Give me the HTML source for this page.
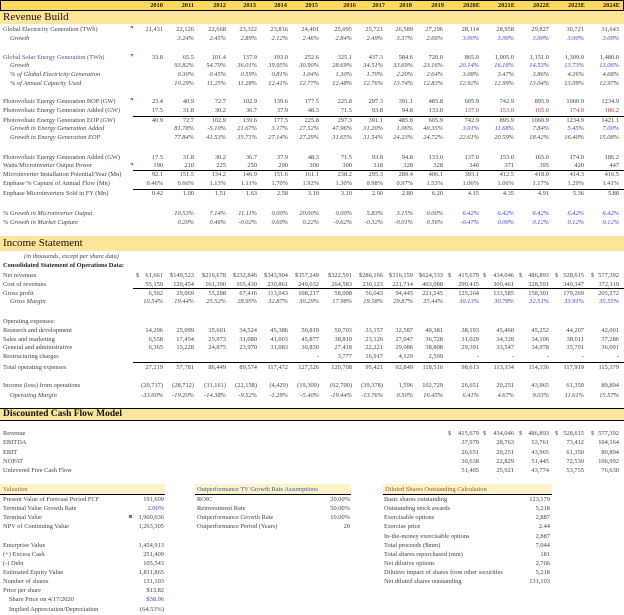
<!DOCTYPE html>
<html><head><meta charset="utf-8"><style>
body{margin:0;background:#fff;width:624px;height:615px;position:relative;overflow:hidden;font-family:"Liberation Serif",serif;color:#444;font-size:6.4px}
.row{position:absolute;left:0;width:624px;height:9px;line-height:9px;white-space:nowrap}
.l{position:absolute;left:3px}
.i{position:absolute;left:10px;font-style:italic}
.v{position:absolute;width:44px;text-align:right}
.it .v{font-style:italic}
.b{color:#3a3af5}
.c0{left:119px}.c1{left:150px}.c2{left:182px}.c3{left:213px}.c4{left:244px}.c5{left:275px}.c6{left:308px}.c7{left:339px}.c8{left:369px}.c9{left:399px}.c10{left:435px}.c11{left:470px}.c12{left:505px}.c13{left:540px}.c14{left:575px}
.band{position:absolute;left:0;width:624px;background:#fee599}
.hl{position:absolute;height:1px;background:#000}
.mk{position:absolute;width:0;height:0;border-top:3px solid #b04fc8;border-left:3px solid transparent}
.d{position:absolute}
.hdr{position:absolute;top:0;left:0;width:622px;height:9px;background:#ffd95e;border:1px solid #000;font-weight:bold;color:#222}
.hdr span{position:absolute;width:44px;text-align:right;top:0;line-height:9px}
</style></head><body>
<div class="hdr">
<span style="left:118px">2010</span><span style="left:149px">2011</span><span style="left:181px">2012</span><span style="left:211px">2013</span><span style="left:242px">2014</span><span style="left:273px">2015</span><span style="left:311px">2016</span><span style="left:340px">2017</span><span style="left:367px">2018</span><span style="left:399px">2019</span><span style="left:435px">2020E</span><span style="left:470px">2021E</span><span style="left:505px">2022E</span><span style="left:540px">2023E</span><span style="left:575px">2024E</span>
</div>
<div class="band" style="top:11px;height:13px"></div>
<div class="d" style="top:11px;left:3px;font-size:11px;color:#111;line-height:13px">Revenue Build</div>

<div class="mk" style="left:130px;top:26px"></div><div class="mk" style="left:130px;top:54px"></div><div class="mk" style="left:130px;top:98px"></div><div class="mk" style="left:130px;top:163px"></div>

<div class="row" style="top:25px"><span class="l">Global Electricity Generation (TWh)</span><span class="v c0">21,431</span><span class="v c1">22,126</span><span class="v c2">22,668</span><span class="v c3">23,322</span><span class="v c4">23,816</span><span class="v c5">24,401</span><span class="v c6">25,095</span><span class="v c7">25,721</span><span class="v c8">26,589</span><span class="v c9">27,296</span><span class="v c10">28,114</span><span class="v c11">28,958</span><span class="v c12">29,827</span><span class="v c13">30,721</span><span class="v c14">31,643</span></div>
<div class="row it" style="top:34px"><span class="i">Growth</span><span class="v c1">3.24%</span><span class="v c2">2.45%</span><span class="v c3">2.89%</span><span class="v c4">2.12%</span><span class="v c5">2.46%</span><span class="v c6">2.84%</span><span class="v c7">2.49%</span><span class="v c8">3.37%</span><span class="v c9">2.66%</span><span class="v c10 b">3.00%</span><span class="v c11 b">3.00%</span><span class="v c12 b">3.00%</span><span class="v c13 b">3.00%</span><span class="v c14 b">3.00%</span></div>

<div class="row" style="top:53px"><span class="l" style="color:#4a5a9a">Global Solar Energy Generation (TWh)</span><span class="v c0">33.8</span><span class="v c1">65.5</span><span class="v c2">101.4</span><span class="v c3">137.9</span><span class="v c4">193.0</span><span class="v c5">252.6</span><span class="v c6">325.1</span><span class="v c7">437.3</span><span class="v c8">584.6</span><span class="v c9">720.0</span><span class="v c10">865.0</span><span class="v c11">1,005.0</span><span class="v c12">1,151.0</span><span class="v c13">1,309.0</span><span class="v c14">1,480.0</span></div>
<div class="row it" style="top:61px"><span class="i">Growth</span><span class="v c1">93.82%</span><span class="v c2">54.79%</span><span class="v c3">36.01%</span><span class="v c4">39.95%</span><span class="v c5">30.90%</span><span class="v c6">28.69%</span><span class="v c7">34.51%</span><span class="v c8">33.69%</span><span class="v c9">23.16%</span><span class="v c10 b">20.14%</span><span class="v c11 b">16.18%</span><span class="v c12 b">14.53%</span><span class="v c13 b">13.73%</span><span class="v c14 b">13.06%</span></div>
<div class="row it" style="top:70px"><span class="i">% of Global Electricity Generation</span><span class="v c1">0.30%</span><span class="v c2">0.45%</span><span class="v c3">0.59%</span><span class="v c4">0.81%</span><span class="v c5">1.04%</span><span class="v c6">1.30%</span><span class="v c7">1.70%</span><span class="v c8">2.20%</span><span class="v c9">2.64%</span><span class="v c10">3.08%</span><span class="v c11">3.47%</span><span class="v c12">3.86%</span><span class="v c13">4.26%</span><span class="v c14">4.68%</span></div>
<div class="row it" style="top:79px"><span class="i">% of Annual Capacity Used</span><span class="v c1">10.29%</span><span class="v c2">11.25%</span><span class="v c3">11.28%</span><span class="v c4">12.41%</span><span class="v c5">12.77%</span><span class="v c6">12.48%</span><span class="v c7">12.76%</span><span class="v c8">13.74%</span><span class="v c9">12.83%</span><span class="v c10">12.92%</span><span class="v c11">12.99%</span><span class="v c12">13.04%</span><span class="v c13">13.09%</span><span class="v c14">12.97%</span></div>

<div class="row" style="top:97px"><span class="l">Photovoltaic Energy Generation BOP (GW)</span><span class="v c0">23.4</span><span class="v c1">40.9</span><span class="v c2">72.7</span><span class="v c3">102.9</span><span class="v c4">139.6</span><span class="v c5">177.5</span><span class="v c6">225.8</span><span class="v c7">297.3</span><span class="v c8">391.1</span><span class="v c9">485.8</span><span class="v c10">605.9</span><span class="v c11">742.9</span><span class="v c12">895.9</span><span class="v c13">1060.9</span><span class="v c14">1234.9</span></div>
<div class="row" style="top:106px"><span class="l">Photovoltaic Energy Generation Added (GW)</span><span class="v c0">17.5</span><span class="v c1">31.8</span><span class="v c2">30.2</span><span class="v c3">36.7</span><span class="v c4">37.9</span><span class="v c5">48.3</span><span class="v c6">71.5</span><span class="v c7">93.8</span><span class="v c8">94.8</span><span class="v c9">133.0</span><span class="v c10" style="color:#a04040">137.0</span><span class="v c11" style="color:#a04040">153.0</span><span class="v c12" style="color:#a04040">165.0</span><span class="v c13" style="color:#a04040">174.0</span><span class="v c14" style="color:#a04040">186.2</span></div>
<div class="hl" style="top:116px;left:133px;width:491px"></div>
<div class="row" style="top:116px"><span class="l">Photovoltaic Energy Generation EOP (GW)</span><span class="v c0">40.9</span><span class="v c1">72.7</span><span class="v c2">102.9</span><span class="v c3">139.6</span><span class="v c4">177.5</span><span class="v c5">225.8</span><span class="v c6">297.3</span><span class="v c7">391.1</span><span class="v c8">485.8</span><span class="v c9">605.9</span><span class="v c10">742.9</span><span class="v c11">895.9</span><span class="v c12">1060.9</span><span class="v c13">1234.9</span><span class="v c14">1421.1</span></div>
<div class="row it" style="top:124px"><span class="i">Growth in Energy Generation Added</span><span class="v c1">81.78%</span><span class="v c2">-5.10%</span><span class="v c3">21.67%</span><span class="v c4">3.17%</span><span class="v c5">27.52%</span><span class="v c6">47.96%</span><span class="v c7">31.20%</span><span class="v c8">1.06%</span><span class="v c9">40.35%</span><span class="v c10 b">3.01%</span><span class="v c11 b">11.68%</span><span class="v c12 b">7.84%</span><span class="v c13 b">5.45%</span><span class="v c14 b">7.00%</span></div>
<div class="row it" style="top:133px"><span class="i">Growth in Energy Generation EOP</span><span class="v c1">77.84%</span><span class="v c2">41.53%</span><span class="v c3">35.71%</span><span class="v c4">27.14%</span><span class="v c5">27.29%</span><span class="v c6">31.65%</span><span class="v c7">31.54%</span><span class="v c8">24.23%</span><span class="v c9">24.72%</span><span class="v c10">22.61%</span><span class="v c11">20.59%</span><span class="v c12">18.42%</span><span class="v c13">16.40%</span><span class="v c14">15.08%</span></div>

<div class="row" style="top:153px"><span class="l">Photovoltaic Energy Generation Added (GW)</span><span class="v c0">17.5</span><span class="v c1">31.8</span><span class="v c2">30.2</span><span class="v c3">36.7</span><span class="v c4">37.9</span><span class="v c5">48.3</span><span class="v c6">71.5</span><span class="v c7">93.8</span><span class="v c8">94.8</span><span class="v c9">133.0</span><span class="v c10">137.0</span><span class="v c11">153.0</span><span class="v c12">165.0</span><span class="v c13">174.0</span><span class="v c14">186.2</span></div>
<div class="row" style="top:161px"><span class="l">Watts/Microinverter Output Power</span><span class="v c0">190</span><span class="v c1">210</span><span class="v c2">225</span><span class="v c3">250</span><span class="v c4">290</span><span class="v c5">300</span><span class="v c6">300</span><span class="v c7">318</span><span class="v c8">328</span><span class="v c9">328</span><span class="v c10">340</span><span class="v c11">371</span><span class="v c12">395</span><span class="v c13">420</span><span class="v c14">447</span></div>
<div class="hl" style="top:170px;left:133px;width:491px"></div>
<div class="row" style="top:170px"><span class="l">Microinverter Installation Potential/Year (Mn)</span><span class="v c0">92.1</span><span class="v c1">151.5</span><span class="v c2">134.2</span><span class="v c3">146.9</span><span class="v c4">151.6</span><span class="v c5">161.1</span><span class="v c6">238.2</span><span class="v c7">295.3</span><span class="v c8">289.4</span><span class="v c9">406.1</span><span class="v c10">393.1</span><span class="v c11">412.5</span><span class="v c12">418.0</span><span class="v c13">414.3</span><span class="v c14">416.5</span></div>
<div class="row" style="top:179px"><span class="l">Enphase % Capture of Annual Flow (Mn)</span><span class="v c0">0.46%</span><span class="v c1">0.66%</span><span class="v c2">1.13%</span><span class="v c3">1.11%</span><span class="v c4">1.70%</span><span class="v c5">1.92%</span><span class="v c6">1.30%</span><span class="v c7">0.98%</span><span class="v c8">0.97%</span><span class="v c9">1.53%</span><span class="v c10">1.06%</span><span class="v c11">1.06%</span><span class="v c12">1.17%</span><span class="v c13">1.29%</span><span class="v c14">1.41%</span></div>
<div class="hl" style="top:189px;left:133px;width:491px"></div>
<div class="row" style="top:189px"><span class="l">Enphase Microinverters Sold in FY (Mn)</span><span class="v c0">0.42</span><span class="v c1">1.00</span><span class="v c2">1.51</span><span class="v c3">1.63</span><span class="v c4">2.58</span><span class="v c5">3.10</span><span class="v c6">3.10</span><span class="v c7">2.90</span><span class="v c8">2.80</span><span class="v c9">6.20</span><span class="v c10">4.15</span><span class="v c11">4.35</span><span class="v c12">4.91</span><span class="v c13">5.36</span><span class="v c14">5.88</span></div>

<div class="row it" style="top:209px"><span class="i" style="left:3px">% Growth in Microinverter Output</span><span class="v c1">10.53%</span><span class="v c2">7.14%</span><span class="v c3">11.11%</span><span class="v c4">0.00%</span><span class="v c5">20.00%</span><span class="v c6">0.00%</span><span class="v c7">5.83%</span><span class="v c8">3.15%</span><span class="v c9">0.00%</span><span class="v c10 b">6.42%</span><span class="v c11 b">6.42%</span><span class="v c12 b">6.42%</span><span class="v c13 b">6.42%</span><span class="v c14 b">6.42%</span></div>
<div class="row it" style="top:218px"><span class="i" style="left:3px">% Growth in Market Capture</span><span class="v c1">0.20%</span><span class="v c2">0.46%</span><span class="v c3">-0.02%</span><span class="v c4">0.60%</span><span class="v c5">0.22%</span><span class="v c6">-0.62%</span><span class="v c7">-0.32%</span><span class="v c8">-0.01%</span><span class="v c9">0.56%</span><span class="v c10 b">-0.47%</span><span class="v c11 b">0.00%</span><span class="v c12 b">0.12%</span><span class="v c13 b">0.12%</span><span class="v c14 b">0.12%</span></div>

<div class="band" style="top:236px;height:15px"></div>
<div class="d" style="top:237px;left:3px;font-size:11px;color:#111;line-height:13px">Income Statement</div>
<div class="row" style="top:252px"><span class="l" style="left:24px;font-style:italic">(in thousands, except per share data)</span></div>
<div class="row" style="top:261px"><span class="l" style="font-weight:bold;color:#222">Consolidated Statement of Operations Data:</span></div>
<div class="row" style="top:271px"><span class="l">Net revenues</span><span class="d" style="left:136px">$</span><span class="v c0">61,661</span><span class="v c1">$149,523</span><span class="v c2">$216,678</span><span class="v c3">$232,846</span><span class="v c4">$343,904</span><span class="v c5">$357,249</span><span class="v c6">$322,591</span><span class="v c7">$286,166</span><span class="v c8">$316,159</span><span class="v c9">$624,333</span><span class="d" style="left:448px">$</span><span class="v c10">415,679</span><span class="d" style="left:483px">$</span><span class="v c11">434,046</span><span class="d" style="left:519px">$</span><span class="v c12">486,893</span><span class="d" style="left:555px">$</span><span class="v c13">528,615</span><span class="d" style="left:591px">$</span><span class="v c14">577,392</span></div>
<div class="row" style="top:280px"><span class="l">Cost of revenues</span><span class="v c0">55,159</span><span class="v c1">120,454</span><span class="v c2">161,390</span><span class="v c3">165,430</span><span class="v c4">230,861</span><span class="v c5">249,032</span><span class="v c6">264,583</span><span class="v c7">230,123</span><span class="v c8">221,714</span><span class="v c9">403,088</span><span class="v c10">290,415</span><span class="v c11">300,461</span><span class="v c12">328,591</span><span class="v c13">349,347</span><span class="v c14">372,119</span></div>
<div class="hl" style="top:288px;left:133px;width:491px"></div>
<div class="row" style="top:289px"><span class="l">Gross profit</span><span class="v c0">6,502</span><span class="v c1">29,069</span><span class="v c2">55,288</span><span class="v c3">67,416</span><span class="v c4">113,043</span><span class="v c5">108,217</span><span class="v c6">58,008</span><span class="v c7">56,043</span><span class="v c8">94,445</span><span class="v c9">221,245</span><span class="v c10">125,264</span><span class="v c11">133,585</span><span class="v c12">158,301</span><span class="v c13">179,269</span><span class="v c14">205,272</span></div>
<div class="row it" style="top:297px"><span class="i">Gross Margin</span><span class="v c0">10.54%</span><span class="v c1">19.44%</span><span class="v c2">25.52%</span><span class="v c3">28.95%</span><span class="v c4">32.87%</span><span class="v c5">30.29%</span><span class="v c6">17.98%</span><span class="v c7">19.58%</span><span class="v c8">29.87%</span><span class="v c9">35.44%</span><span class="v c10 b">30.13%</span><span class="v c11 b">30.78%</span><span class="v c12 b">32.51%</span><span class="v c13 b">33.91%</span><span class="v c14 b">35.55%</span></div>

<div class="row" style="top:317px"><span class="l">Operating expenses:</span></div>
<div class="row" style="top:326px"><span class="l">Research and development</span><span class="v c0">14,296</span><span class="v c1">25,099</span><span class="v c2">35,601</span><span class="v c3">34,524</span><span class="v c4">45,386</span><span class="v c5">50,819</span><span class="v c6">50,703</span><span class="v c7">33,157</span><span class="v c8">32,587</span><span class="v c9">40,381</span><span class="v c10">38,193</span><span class="v c11">45,460</span><span class="v c12">45,252</span><span class="v c13">44,207</span><span class="v c14">42,001</span></div>
<div class="row" style="top:335px"><span class="l">Sales and marketing</span><span class="v c0">6,558</span><span class="v c1">17,454</span><span class="v c2">25,973</span><span class="v c3">31,080</span><span class="v c4">41,003</span><span class="v c5">45,877</span><span class="v c6">38,810</span><span class="v c7">23,126</span><span class="v c8">27,047</span><span class="v c9">36,728</span><span class="v c10">31,029</span><span class="v c11">34,328</span><span class="v c12">34,106</span><span class="v c13">38,011</span><span class="v c14">37,286</span></div>
<div class="row" style="top:343px"><span class="l">General and administrative</span><span class="v c0">6,365</span><span class="v c1">15,228</span><span class="v c2">24,875</span><span class="v c3">23,970</span><span class="v c4">31,083</span><span class="v c5">30,830</span><span class="v c6">27,418</span><span class="v c7">22,221</span><span class="v c8">29,086</span><span class="v c9">38,808</span><span class="v c10">29,391</span><span class="v c11">33,547</span><span class="v c12">34,978</span><span class="v c13">35,701</span><span class="v c14">36,091</span></div>
<div class="row" style="top:352px"><span class="l">Restructuring charges</span><span class="v c5">-</span><span class="v c6">3,777</span><span class="v c7">16,917</span><span class="v c8">4,129</span><span class="v c9">2,599</span><span class="v c10">-</span><span class="v c11">-</span><span class="v c12">-</span><span class="v c13">-</span><span class="v c14">-</span></div>
<div class="hl" style="top:362px;left:133px;width:491px"></div>
<div class="row" style="top:363px"><span class="l">Total operating expenses</span><span class="v c0">27,219</span><span class="v c1">57,781</span><span class="v c2">86,449</span><span class="v c3">89,574</span><span class="v c4">117,472</span><span class="v c5">127,526</span><span class="v c6">120,708</span><span class="v c7">95,421</span><span class="v c8">92,849</span><span class="v c9">118,516</span><span class="v c10">98,613</span><span class="v c11">113,334</span><span class="v c12">114,336</span><span class="v c13">117,919</span><span class="v c14">115,379</span></div>

<div class="row" style="top:381px"><span class="l">Income (loss) from operations</span><span class="v c0">(20,717)</span><span class="v c1">(28,712)</span><span class="v c2">(31,161)</span><span class="v c3">(22,158)</span><span class="v c4">(4,429)</span><span class="v c5">(19,309)</span><span class="v c6">(62,700)</span><span class="v c7">(39,378)</span><span class="v c8">1,596</span><span class="v c9">102,729</span><span class="v c10">26,651</span><span class="v c11">20,251</span><span class="v c12">43,965</span><span class="v c13">61,350</span><span class="v c14">89,894</span></div>
<div class="row it" style="top:391px"><span class="i">Operating Margin</span><span class="v c0">-33.60%</span><span class="v c1">-19.20%</span><span class="v c2">-14.38%</span><span class="v c3">-9.52%</span><span class="v c4">-1.29%</span><span class="v c5">-5.40%</span><span class="v c6">-19.44%</span><span class="v c7">-13.76%</span><span class="v c8">0.50%</span><span class="v c9">16.45%</span><span class="v c10">6.41%</span><span class="v c11">4.67%</span><span class="v c12">9.03%</span><span class="v c13">11.61%</span><span class="v c14">15.57%</span></div>

<div class="band" style="top:408px;height:11px;border-top:1px solid #000;border-bottom:1px solid #000"></div>
<div class="d" style="top:408px;left:3px;font-size:9.5px;font-weight:bold;color:#111;line-height:13px">Discounted Cash Flow Model</div>
<div class="row" style="top:429px"><span class="l">Revenue</span><span class="d" style="left:448px">$</span><span class="v c10">415,679</span><span class="d" style="left:483px">$</span><span class="v c11">434,046</span><span class="d" style="left:519px">$</span><span class="v c12">486,893</span><span class="d" style="left:555px">$</span><span class="v c13">528,615</span><span class="d" style="left:591px">$</span><span class="v c14">577,392</span></div>
<div class="row" style="top:438px"><span class="l">EBITDA</span><span class="v c10">37,979</span><span class="v c11">28,763</span><span class="v c12">53,761</span><span class="v c13">73,412</span><span class="v c14">104,164</span></div>
<div class="row" style="top:448px"><span class="l">EBIT</span><span class="v c10">26,651</span><span class="v c11">20,251</span><span class="v c12">43,965</span><span class="v c13">61,350</span><span class="v c14">89,894</span></div>
<div class="row" style="top:457px"><span class="l">NOPAT</span><span class="v c10">30,638</span><span class="v c11">22,829</span><span class="v c12">51,445</span><span class="v c13">72,530</span><span class="v c14">106,992</span></div>
<div class="row" style="top:466px"><span class="l">Unlevered Free Cash Flow</span><span class="v c10">51,405</span><span class="v c11">25,921</span><span class="v c12">43,774</span><span class="v c13">53,755</span><span class="v c14">76,630</span></div>

<div class="d" style="top:484px;left:0;width:165px;height:10px;background:#fff1c8;border-bottom:1px solid #000"></div>
<div class="d" style="top:484px;left:195px;width:156px;height:10px;background:#fff1c8;border-bottom:1px solid #000"></div>
<div class="d" style="top:484px;left:383px;width:169px;height:10px;background:#fff1c8;border-bottom:1px solid #000"></div>
<div class="row" style="top:485px"><span class="l" style="color:#8a6a2a">Valuation</span><span class="d" style="left:197px;color:#3a5a9a">Outperformance TV Growth Rate Assumptions</span><span class="d" style="left:385px;color:#8a5a2a">Diluted Shares Outstanding Calculation</span></div>

<div class="mk" style="left:129px;top:515px;border-top:3px solid #b04fc8;border-left:3px solid #b04fc8"></div>
<div class="row" style="top:495px"><span class="l">Present Value of Forecast Period FCF</span><span class="v" style="left:120px">191,609</span><span class="d" style="left:197px">ROIC</span><span class="v" style="left:306px">20.00%</span><span class="d" style="left:384px">Basic shares outstanding</span><span class="v" style="left:506px">123,179</span></div>
<div class="row" style="top:504px"><span class="l">Terminal Value Growth Rate</span><span class="v b" style="left:120px">2.00%</span><span class="d" style="left:197px">Reinvestment Rate</span><span class="v" style="left:306px">50.00%</span><span class="d" style="left:384px">Outstanding stock awards</span><span class="v" style="left:506px">5,218</span></div>
<div class="row" style="top:513px"><span class="l">Terminal Value</span><span class="v" style="left:120px">1,960,036</span><span class="d" style="left:197px">Outperformance Growth Rate</span><span class="v" style="left:306px">10.00%</span><span class="d" style="left:384px">Exercisable options</span><span class="v" style="left:506px">2,887</span></div>
<div class="row" style="top:522px"><span class="l">NPV of Continuing Value</span><span class="v" style="left:120px">1,263,305</span><span class="d" style="left:197px">Outperformance Period (Years)</span><span class="v" style="left:306px">20</span><span class="d" style="left:384px">Exercise price</span><span class="v" style="left:506px">2.44</span></div>
<div class="row" style="top:532px"><span class="d" style="left:384px">In-the-money exercisable options</span><span class="v" style="left:506px">2,887</span></div>
<div class="row" style="top:541px"><span class="l">Enterprise Value</span><span class="v" style="left:120px">1,454,913</span><span class="d" style="left:384px">Total proceeds ($mm)</span><span class="v" style="left:506px">7,044</span></div>
<div class="row" style="top:550px"><span class="l">(+) Excess Cash</span><span class="v" style="left:120px">251,409</span><span class="d" style="left:384px">Total shares repurchased (mm)</span><span class="v" style="left:506px">181</span></div>
<div class="row" style="top:559px"><span class="l">(-) Debt</span><span class="v" style="left:120px">105,543</span><span class="d" style="left:384px">Net dilutive options</span><span class="v" style="left:506px">2,706</span></div>
<div class="row" style="top:568px"><span class="l">Estimated Equity Value</span><span class="v" style="left:120px">1,811,865</span><span class="d" style="left:384px">Dilutive impact of shares from other securities</span><span class="v" style="left:506px">5,218</span></div>
<div class="row" style="top:577px"><span class="l">Number of shares</span><span class="v" style="left:120px">131,103</span><span class="d" style="left:384px">Net diluted shares outstanding</span><span class="v" style="left:506px">131,103</span></div>
<div class="row" style="top:586px"><span class="l">Price per share</span><span class="v" style="left:120px">$13.82</span></div>
<div class="row" style="top:595px"><span class="l" style="left:9px">Share Price on 4/17/2020</span><span class="v b" style="left:120px">$38.96</span></div>
<div class="row" style="top:605px"><span class="l" style="left:9px">Implied Appreciation/Depreciation</span><span class="v" style="left:120px">(64.53%)</span></div>
</body></html>
